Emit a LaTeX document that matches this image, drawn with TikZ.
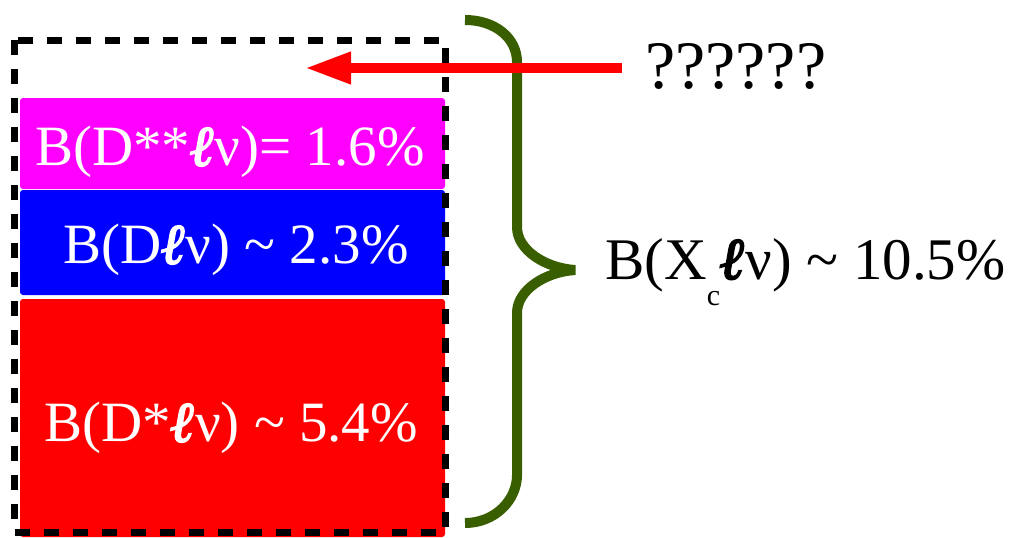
\documentclass[tikz,border=0pt]{standalone}
\usepackage{fontspec}
\setmainfont{Liberation Serif}
\newfontfamily\ellfam{Liberation Serif}[FakeBold=3]
\usetikzlibrary{arrows.meta}
\definecolor{braceG}{RGB}{56,94,0}
\definecolor{magB}{RGB}{255,0,255}
\definecolor{bluB}{RGB}{0,0,255}
\definecolor{redB}{RGB}{255,0,0}
\newcommand{\ellb}{{\ellfam\bfseries\itshape ℓ}}
\tikzset{
  bar/.style={rounded corners=3pt, draw=none},
  bartext/.style={text=white, font=\fontsize{57}{60}\selectfont, inner sep=0pt},
  outline/.style={draw=black, line width=7pt, dash pattern=on 15pt off 14pt},
  bracepath/.style={draw=braceG, line width=10pt},
  redarrow/.style={draw=redB, line width=10pt, -{Triangle[length=46pt,width=30pt]}},
  label/.style={text=black, font=\fontsize{59}{64}\selectfont, inner sep=0pt, anchor=west},
  qlabel/.style={text=black, font=\fontsize{68}{72}\selectfont, inner sep=0pt, anchor=west}
}
\begin{document}
\begin{tikzpicture}[x=1pt,y=-1pt]
\useasboundingbox (0,0) rectangle (1013,538);
% bars
\fill[bar, magB] (20,98) rectangle (445,189);
\fill[bar, bluB] (20,190) rectangle (445,295);
\fill[bar, redB] (20,299) rectangle (445,537);
\node[bartext] (dss) at (230,152) {B(D**\ellb ν)= 1.6\%};
\node[bartext] (d) at (236,250) {B(D\ellb ν) \textasciitilde{} 2.3\%};
\node[bartext] (ds) at (231,428) {B(D*\ellb ν) \textasciitilde{} 5.4\%};
% dashed outline
\draw[outline] (14,40) rectangle (445,532);
% brace
\draw[bracepath] (465,20) .. controls (495,20) and (517,38) .. (517,62)
  -- (517,227) .. controls (517,250) and (545,268) .. (575,270)
  coordinate (tip)
  .. controls (545,272) and (517,290) .. (517,313)
  -- (517,475) .. controls (517,500) and (495,523) .. (465,523);
% labels
\node[label] (tot) at (605,272) {B(X\raisebox{-0.45em}{\fontsize{30}{32}\selectfont c}\ellb ν) \textasciitilde{} 10.5\%};
\node[qlabel] (q) at (645,66) {??????};
\coordinate (ahead) at (305,68);
\draw[redarrow] (622,68) -- (ahead);
\end{tikzpicture}
\end{document}
